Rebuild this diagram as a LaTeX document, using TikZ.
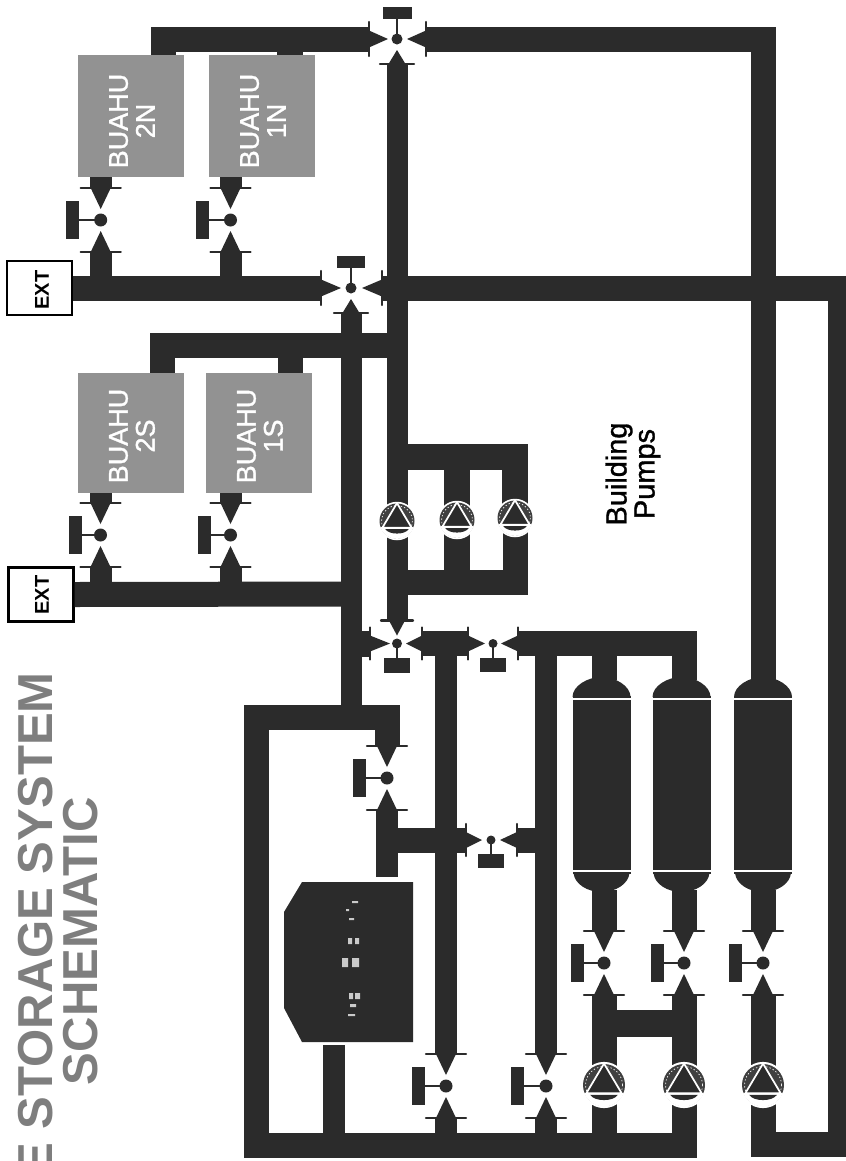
\documentclass[tikz,border=0pt]{standalone}
\usepackage{fontspec}
\setmainfont{Liberation Sans}
\newfontfamily\heavyfont[FakeBold=1.2]{Liberation Sans}
\definecolor{ink}{HTML}{2B2B2B}
\definecolor{ahu}{HTML}{929292}
\definecolor{titlegray}{HTML}{7E7E7E}
\tikzset{
  pipe/.style={draw=ink,line width=#1*0.75pt,line cap=butt,miter limit=10},
  pipe/.default=25,
  flange/.style={draw=ink,line width=1.8pt,line cap=round},
  hub/.style={circle,fill=ink,inner sep=0pt,minimum size=#1*0.75pt},
  stem/.style={draw=ink,line width=1.6pt},
  ahubox/.style={rectangle,fill=ahu,inner sep=0pt,minimum width=106*0.75pt,minimum height=122*0.75pt},
  ahutext/.style={text=white,rotate=90,align=center,font=\heavyfont\fontsize{20.25}{20.25}\selectfont},
  extbox/.style={rectangle,draw=black,line width=1.8pt,fill=white,inner sep=0pt,minimum width=65*0.75pt,minimum height=54*0.75pt},
  exttext/.style={text=black,rotate=90,font=\bfseries\fontsize{15}{15}\selectfont},
  titletext/.style={text=titlegray,rotate=90,font=\bfseries\fontsize{36.8}{36.8}\selectfont,inner sep=0pt},
  labeltext/.style={text=black,rotate=90,align=center,font=\heavyfont\fontsize{21.7}{21}\selectfont},
  tankbody/.style={rectangle,fill=ink,inner sep=0pt,minimum width=58*0.75pt,minimum height=168*0.75pt},
  pumpdisc/.style={circle,fill=white,inner sep=0pt}
}
\newcommand\varm[5]{%
  \begin{scope}[shift={(#1.center)},rotate=#2]
    \fill[ink] (#3,0) -- (#4,-#5) -- (#4,#5) -- cycle;
    \draw[flange] (#4,-2*#5) -- (#4,2*#5);
    \coordinate (#1-#2) at (#4,0);
  \end{scope}}
\newcommand\vhandle[5]{%
  \begin{scope}[shift={(#1.center)},rotate=#2]
    \draw[stem] (0,0) -- (#3,0);
    \fill[ink] (#3,-#5) rectangle (#3+#4,#5);
  \end{scope}}
\newcommand\bigvalve[5]{% name,x,y,handle-L,handle-angle
  \node[hub=13] (#1) at (#2,#3) {};
  \varm{#1}{90}{11}{32}{10}
  \varm{#1}{270}{11}{32}{10}
  \vhandle{#1}{#5}{#4}{13}{19}}
\newcommand\pumpsym[4]{%
  \node[pumpdisc,minimum size=2.2*#4*0.75pt] (#1) at (#2,#3) {};
  \begin{scope}[shift={(#1.center)},scale=#4]
    \fill[ink!90!white] (0,0) circle (1);
    \draw[white,line width=0.5pt,dash pattern=on 1pt off 1.6pt] (0,0) circle (0.88);
    \begin{scope}
      \clip (-1.2,0.39) rectangle (1.2,1.2);
      \fill[white] (0,0) circle (1.02);
    \end{scope}
    \fill[ink] (-0.66,0.47) -- (0.66,0.47) .. controls (0.45,0.8) and (-0.45,0.8) .. cycle;
    \fill[ink,draw=white,line width=1.3pt,line join=round] (0,-1.02) -- (-0.84,0.39) -- (0.84,0.39) -- cycle;
  \end{scope}}
\newcommand\tanksym[2]{%
  \node[tankbody] (#1) at (#2,785) {};
  \fill[ink] (#2-29,697) .. controls (#2-29,686) and (#2-14,677) .. (#2,677)
     .. controls (#2+14,677) and (#2+29,686) .. (#2+29,697) -- cycle;
  \fill[ink] (#2-28,873) .. controls (#2-27,884) and (#2-14,892) .. (#2,892)
     .. controls (#2+14,892) and (#2+27,884) .. (#2+28,873) -- cycle;
  \coordinate (#1-top) at (#2,680);
  \coordinate (#1-bot) at (#2,890);}
\begin{document}
\begin{tikzpicture}[x=0.75pt,y=-0.75pt]
\useasboundingbox (0,0) rectangle (846,1161);
\clip (0,0) rectangle (846,1161);
\fill[white] (0,0) rectangle (846,1161);

% boxes
\node[ahubox] (b2n) at (131,116) {};
\node[ahubox] (b1n) at (262,116) {};
\node[ahubox,minimum height=120*0.75pt] (b2s) at (131,433) {};
\node[ahubox,minimum height=120*0.75pt] (b1s) at (259,433) {};
\node[ahutext] (t2n) at (132,121) {BUAHU\\2N};
\node[ahutext] (t1n) at (263,121) {BUAHU\\1N};
\node[ahutext] (t2s) at (132,436) {BUAHU\\2S};
\node[ahutext] (t1s) at (260,436) {BUAHU\\1S};

% valves on the air handlers
\bigvalve{va}{100.7}{220}{21.5}{180}
\bigvalve{vb}{230.5}{220}{21.5}{180}
\bigvalve{vc}{100.5}{535}{19}{180}
\bigvalve{vd}{230.5}{535}{19.5}{180}
% three-way valves
\node[hub=11] (vn) at (397,39) {};
\varm{vn}{180}{9}{28}{8.5}\varm{vn}{0}{10}{29}{8.5}\varm{vn}{270}{11}{25}{8.5}
\vhandle{vn}{90}{20}{12}{14.5}
\node[hub=11] (vm) at (351,288) {};
\varm{vm}{180}{10}{30}{8.5}\varm{vm}{0}{11}{31}{8.5}\varm{vm}{270}{11}{25}{8.5}
\vhandle{vm}{90}{20}{12}{14}
\node[hub=10] (vs) at (397,643.5) {};
\varm{vs}{90}{8}{23}{8}\varm{vs}{180}{7}{27}{8}\varm{vs}{0}{9}{25}{8}
\vhandle{vs}{270}{14}{15}{13}
\node[hub=9] (vt) at (493,643.5) {};
\varm{vt}{180}{8}{25}{8}\varm{vt}{0}{8}{25}{8}
\vhandle{vt}{270}{14}{14}{13}
\node[hub=9] (vu) at (491,840) {};
\varm{vu}{180}{9}{25}{8}\varm{vu}{0}{9}{26}{8}
\vhandle{vu}{270}{14}{14}{13}
% two-way valves
\bigvalve{ve}{387}{778}{21}{180}
\bigvalve{vf}{446}{1086}{21}{180}
\bigvalve{vg}{546}{1086}{22}{180}
\bigvalve{vh}{604}{963}{20}{180}
\bigvalve{vi}{684}{963}{20}{180}
\bigvalve{vj}{763}{963}{21}{180}

% EXT boxes
\node[extbox] (ext1) at (39.5,288) {};
\node[extbox] (ext2) at (41,594.5) {};
\node[exttext] (xt1) at (42,290) {EXT};
\node[exttext] (xt2) at (42,595) {EXT};

% tanks
\tanksym{ta}{601.5}
\tanksym{tb}{681.5}
\tanksym{tc}{763}
% controller
\fill[ink] (284,912) -- (302,882) -- (413,882) -- (413,1042) -- (302,1042) -- (284,1008) -- cycle;
\fill[white!75!ink] (352,901) rectangle (358,903) (346,909) rectangle (349,911)
  (349,918) rectangle (354,920) (348,938) rectangle (352,944) (355,938) rectangle (359,944)
  (342,958) rectangle (348,967) (352,958) rectangle (359,967)
  (349,993) rectangle (353,999) (355,993) rectangle (360,999)
  (350,1004) rectangle (356,1007) (348,1014) rectangle (355,1016);
\coordinate (ctrlb) at (334,1045);

% junction coordinates
\coordinate (ja) at (163,39);
\coordinate (jb) at (290,39);
\coordinate (jc) at (763,39);
\coordinate (jd) at (840.5,288);
\coordinate (je) at (840.5,1144);
\coordinate (jf) at (763,1144);
\coordinate (jg) at (397,345.5);
\coordinate (jh) at (162,345.5);
\coordinate (ji) at (290,345.5);
\coordinate (jj) at (351,594);
\coordinate (jk) at (351,717);
\coordinate (jl) at (387,717);
\coordinate (jm) at (256,717);
\coordinate (jn) at (256,1145);
\coordinate (jo) at (684,1145);

% pump positions
\coordinate (pa) at (397,521);
\coordinate (pb) at (457,520);
\coordinate (pc) at (515,518);
\coordinate (pd) at (604,1085);
\coordinate (pe) at (684,1085);
\coordinate (pf) at (763,1085);

% pipes, north group
\draw[pipe] (vn-180) -- (ja) -- (ja |- b2n.north);
\draw[pipe=26] (jb) -- (jb |- b1n.north);
\draw[pipe] (vn-0) -- (jc) -- (tc-top);
\draw[pipe=21] (vn-270) -- (pa);
% external supply north
\draw[pipe] (ext1.east) -- (vm-180);
\draw[pipe] (vm-0) -- (jd) -- (je) -- (jf) -- (pf);
\draw[pipe=21] (vm-270) -- (jk);
\draw[pipe=22] (va-90 |- b2n.south) -- (va-90);
\draw[pipe=22] (vb-90 |- b1n.south) -- (vb-90);
\draw[pipe=22] (va-270) -- (va-270 |- ext1.east);
\draw[pipe=22] (vb-270) -- (vb-270 |- ext1.east);
% south group
\draw[pipe] (jg) -- (jh) -- (jh |- b2s.north);
\draw[pipe] (ji) -- (ji |- b1s.north);
\draw[pipe] (ext2.east) -- (jj);
\draw[pipe=22] (vc-90 |- b2s.south) -- (vc-90);
\draw[pipe=22] (vd-90 |- b1s.south) -- (vd-90);
\draw[pipe=22] (vc-270) -- (vc-270 |- jj);
\draw[pipe=22] (vd-270) -- (vd-270 |- jj);
% building pumps
\coordinate (bt) at (397,456.5);
\coordinate (bl) at (397,582.5);
\draw[pipe=26] (bt) -- (pc |- bt) -- (pc);
\draw[pipe=26] (pb |- bt) -- (pb);
\draw[pipe] (bl) -- (pc |- bl) -- (pc);
\draw[pipe=26] (pb |- bl) -- (pb);
\draw[pipe=21] (pa) -- (vs-90);
% header
\draw[pipe=26] (vs-180) -- (vs-180 -| jj);
\draw[pipe=25] (vs-0) -- (vt-180);
\draw[pipe=22] (vs-0 -| vf) -- (vf-90);
\draw[pipe] (vt-0) -- (pe |- vt-0) -- (pe |- tb-top);
\draw[pipe] (pd |- vt-0) -- (pd |- ta-top);
\draw[pipe=22] (vg-90 |- vt-0) -- (vg-90);
% chiller loop
\draw[pipe] (pe) -- (jo) -- (jn) -- (jm) -- (jl) -- (ve-90);
\coordinate (kend) at (387,877);
\draw[pipe=22] (ve-270) -- (kend);
\draw[pipe] (kend |- vu-180) -- (vu-180);
\draw[pipe] (vu-0) -- (vg |- vu-0);
\draw[pipe=22] (ctrlb) -- (ctrlb |- jn);
\draw[pipe=22] (vf-270) -- (vf |- jn);
\draw[pipe=22] (vg-270) -- (vg |- jn);
% tank and pump legs
\draw[pipe] (pd |- ta-bot) -- (vh-90);
\draw[pipe] (pe |- tb-bot) -- (vi-90);
\draw[pipe] (pf |- tc-bot) -- (vj-90);
\draw[pipe] (vh-270) -- (pd) -- (pd |- jn);
\draw[pipe] (vi-270) -- (pe);
\draw[pipe] (vj-270) -- (pf);
\coordinate (hb) at (0,1023.5);
\draw[pipe=27] (pd |- hb) -- (pe |- hb);

% white seam lines on tanks
\foreach \tk/\cx in {ta/601.5,tb/681.5,tc/763}{
  \fill[ink] (\cx-29,696) rectangle (\cx+29,702);
  \fill[ink] (\cx-29,868) rectangle (\cx+29,874);
  \draw[white,line width=1pt] (\cx-30,699) -- (\cx+30,699);
  \draw[white,line width=1pt] (\cx-30,871) -- (\cx+30,871);
}

% pump symbols
\pumpsym{p1}{397}{521}{17.5}
\pumpsym{p2}{457}{520}{17.5}
\pumpsym{p3}{515}{518}{17.5}
\pumpsym{p4}{604}{1085}{21}
\pumpsym{p5}{684}{1085}{21}
\pumpsym{p6}{763}{1085}{21}

% texts
\node[labeltext] (bp) at (633,474) {Building\\Pumps};
\node[titletext,anchor=base east] (tl1) at (52,672) {E STORAGE SYSTEM};
\node[titletext,anchor=base] (tl2) at (97,941) {SCHEMATIC};
\end{tikzpicture}
\end{document}
